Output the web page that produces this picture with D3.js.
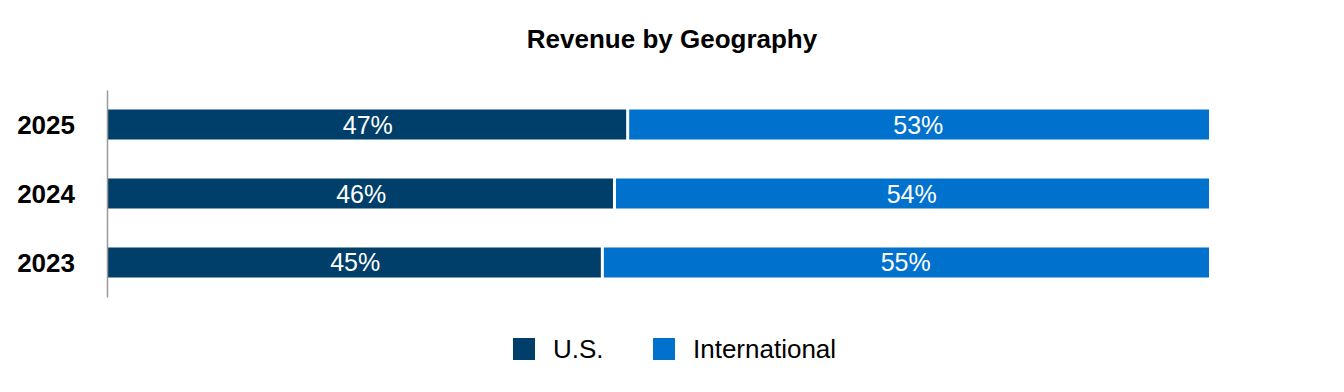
<!DOCTYPE html>
<html>
<head>
<meta charset="utf-8">
<script src="https://cdn.jsdelivr.net/npm/d3@7"></script>
<style>
  html, body { margin: 0; padding: 0; background: #fff; }
  svg { display: block; font-family: "Liberation Sans", Arial, sans-serif; }
</style>
</head>
<body>
<svg id="chart" width="1344" height="392"></svg>
<script>
const years = ["2025", "2024", "2023"];
const usShare = [47.2, 46.0, 44.9];
const intlShare = [52.8, 54.0, 55.1];
const usLabels = ["47%", "46%", "45%"];
const intlLabels = ["53%", "54%", "55%"];
const seriesNames = ["U.S.", "International"];
const seriesColors = ["#003f69", "#0072ce"];

const svg = d3.select("#chart");
const W = 1344, H = 392;
const margin = { left: 108, right: 135, top: 90, bottom: 95 };
const gap = 3;

const x = d3.scaleLinear().domain([0, 100]).range([margin.left, W - margin.right]);
const y = d3.scaleBand().domain(years).range([margin.top, H - margin.bottom])
  .paddingInner(0.565).paddingOuter(0.2826);

const rows = years.map((yr, i) => ({
  year: yr,
  segs: [
    { s: 0, x0: 0, x1: usShare[i], label: usLabels[i] },
    { s: 1, x0: usShare[i], x1: usShare[i] + intlShare[i], label: intlLabels[i] }
  ]
}));

// Title
svg.append("text")
  .attr("x", W / 2).attr("y", 48)
  .attr("text-anchor", "middle")
  .attr("font-size", 26).attr("font-weight", "bold").attr("fill", "#000")
  .text("Revenue by Geography");

// Bars
const g = svg.append("g");
rows.forEach(r => {
  r.segs.forEach(sg => {
    const xa = x(sg.x0) + (sg.s === 1 ? gap / 2 : 0);
    const xb = x(sg.x1) - (sg.s === 0 ? gap / 2 : 0);
    g.append("rect")
      .attr("x", xa)
      .attr("y", y(r.year))
      .attr("width", xb - xa)
      .attr("height", y.bandwidth())
      .attr("fill", seriesColors[sg.s]);
    g.append("text")
      .attr("x", (x(sg.x0) + x(sg.x1)) / 2)
      .attr("y", y(r.year) + y.bandwidth() / 2)
      .attr("text-anchor", "middle")
      .attr("dominant-baseline", "central")
      .attr("font-size", 25).attr("fill", "#fff")
      .text(sg.label);
  });
});

// Y axis
const yAxis = d3.axisLeft(y).tickSize(0).tickPadding(32);
const ya = svg.append("g").attr("transform", `translate(${margin.left - 1},0)`).call(yAxis);
ya.select(".domain").attr("stroke", "#999").attr("stroke-width", 1.5);
ya.selectAll("text")
  .attr("font-size", 26).attr("font-weight", "bold").attr("fill", "#000")
  .attr("font-family", "Liberation Sans, Arial, sans-serif")
  .attr("dy", "0.35em");

// Legend
const legendX = [513, 653];
seriesNames.forEach((n, i) => {
  svg.append("rect")
    .attr("x", legendX[i]).attr("y", 338)
    .attr("width", 22).attr("height", 22)
    .attr("fill", seriesColors[i]);
  svg.append("text")
    .attr("x", legendX[i] + 40).attr("y", 349)
    .attr("dominant-baseline", "central")
    .attr("font-size", 26).attr("fill", "#000")
    .text(n);
});
</script>
</body>
</html>
